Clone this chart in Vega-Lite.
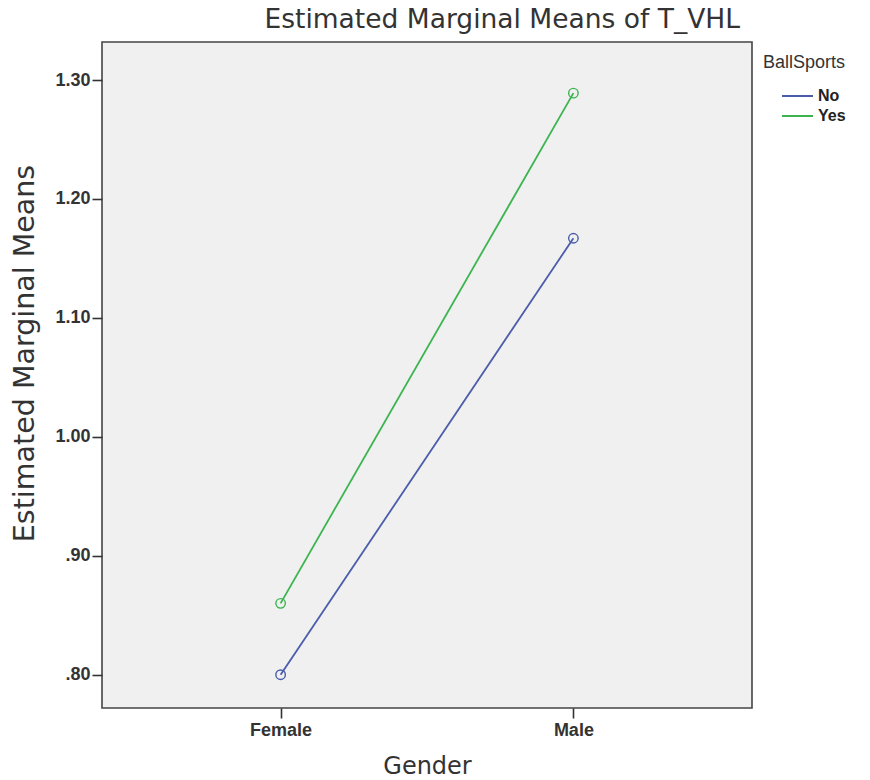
{
  "$schema": "https://vega.github.io/schema/vega-lite/v6.json",
  "width": 650,
  "height": 666,
  "autosize": {"type": "none"},
  "padding": {"left": 102, "top": 42, "right": 118, "bottom": 72},
  "background": "white",
  "config": {
    "font": "Liberation Sans",
    "view": {"fill": "#f0f0f0", "stroke": "#444444", "strokeWidth": 1.6},
    "axis": {"grid": false, "domain": false, "tickColor": "#333333", "tickWidth": 1.6, "tickSize": 10,
             "labelFont": "Liberation Sans", "labelFontWeight": "bold", "labelFontSize": 18, "labelColor": "#333333",
             "titleFont": "DejaVu Sans", "titleFontWeight": "normal", "titleFontSize": 24, "titleColor": "#333333"}
  },
  "title": {"text": "Estimated Marginal Means of T_VHL", "anchor": "end", "frame": "group", "dx": -12, "offset": 9, "fontSize": 26.5, "fontWeight": "normal", "color": "#333333", "font": "DejaVu Sans"},
  "data": {"values": [
    {"Gender": "Female", "BallSports": "No", "Mean": 0.800},
    {"Gender": "Male", "BallSports": "No", "Mean": 1.167},
    {"Gender": "Female", "BallSports": "Yes", "Mean": 0.860},
    {"Gender": "Male", "BallSports": "Yes", "Mean": 1.289}
  ]},
  "encoding": {
    "x": {"field": "Gender", "type": "nominal", "sort": ["Female", "Male"],
          "scale": {"type": "point", "padding": 0.61},
          "axis": {"title": "Gender", "labelAngle": 0, "labelPadding": 3, "titlePadding": 15}},
    "y": {"field": "Mean", "type": "quantitative",
          "scale": {"domain": [0.772, 1.332], "nice": false, "zero": false},
          "axis": {"title": "Estimated Marginal Means", "titleFontSize": 28.5, "titleY": 311, "values": [0.8, 0.9, 1.0, 1.1, 1.2, 1.3],
                   "labelExpr": "datum.value < 1 ? slice(format(datum.value, '.2f'), 1) : format(datum.value, '.2f')",
                   "labelPadding": 2, "titlePadding": 15}},
    "color": {"field": "BallSports", "type": "nominal",
              "scale": {"domain": ["No", "Yes"], "range": ["#4a5cab", "#3cb44f"]},
              "legend": {"title": "BallSports", "orient": "none", "legendX": 661, "legendY": 12,
                         "symbolType": "stroke", "symbolStrokeWidth": 2, "symbolSize": 960, "symbolOffset": 18,
                         "clipHeight": 18,
                         "titleFont": "Liberation Sans", "titleFontSize": 18, "titleFontWeight": "normal", "titleColor": "#333333", "titlePadding": 15,
                         "labelFont": "Liberation Sans", "labelFontSize": 16, "labelFontWeight": "bold", "labelColor": "#222222", "labelOffset": 4,
                         "rowPadding": 2}}
  },
  "layer": [
    {"mark": {"type": "line", "strokeWidth": 1.8}},
    {"mark": {"type": "point", "filled": false, "size": 90, "strokeWidth": 1.4, "opacity": 1}}
  ]
}
